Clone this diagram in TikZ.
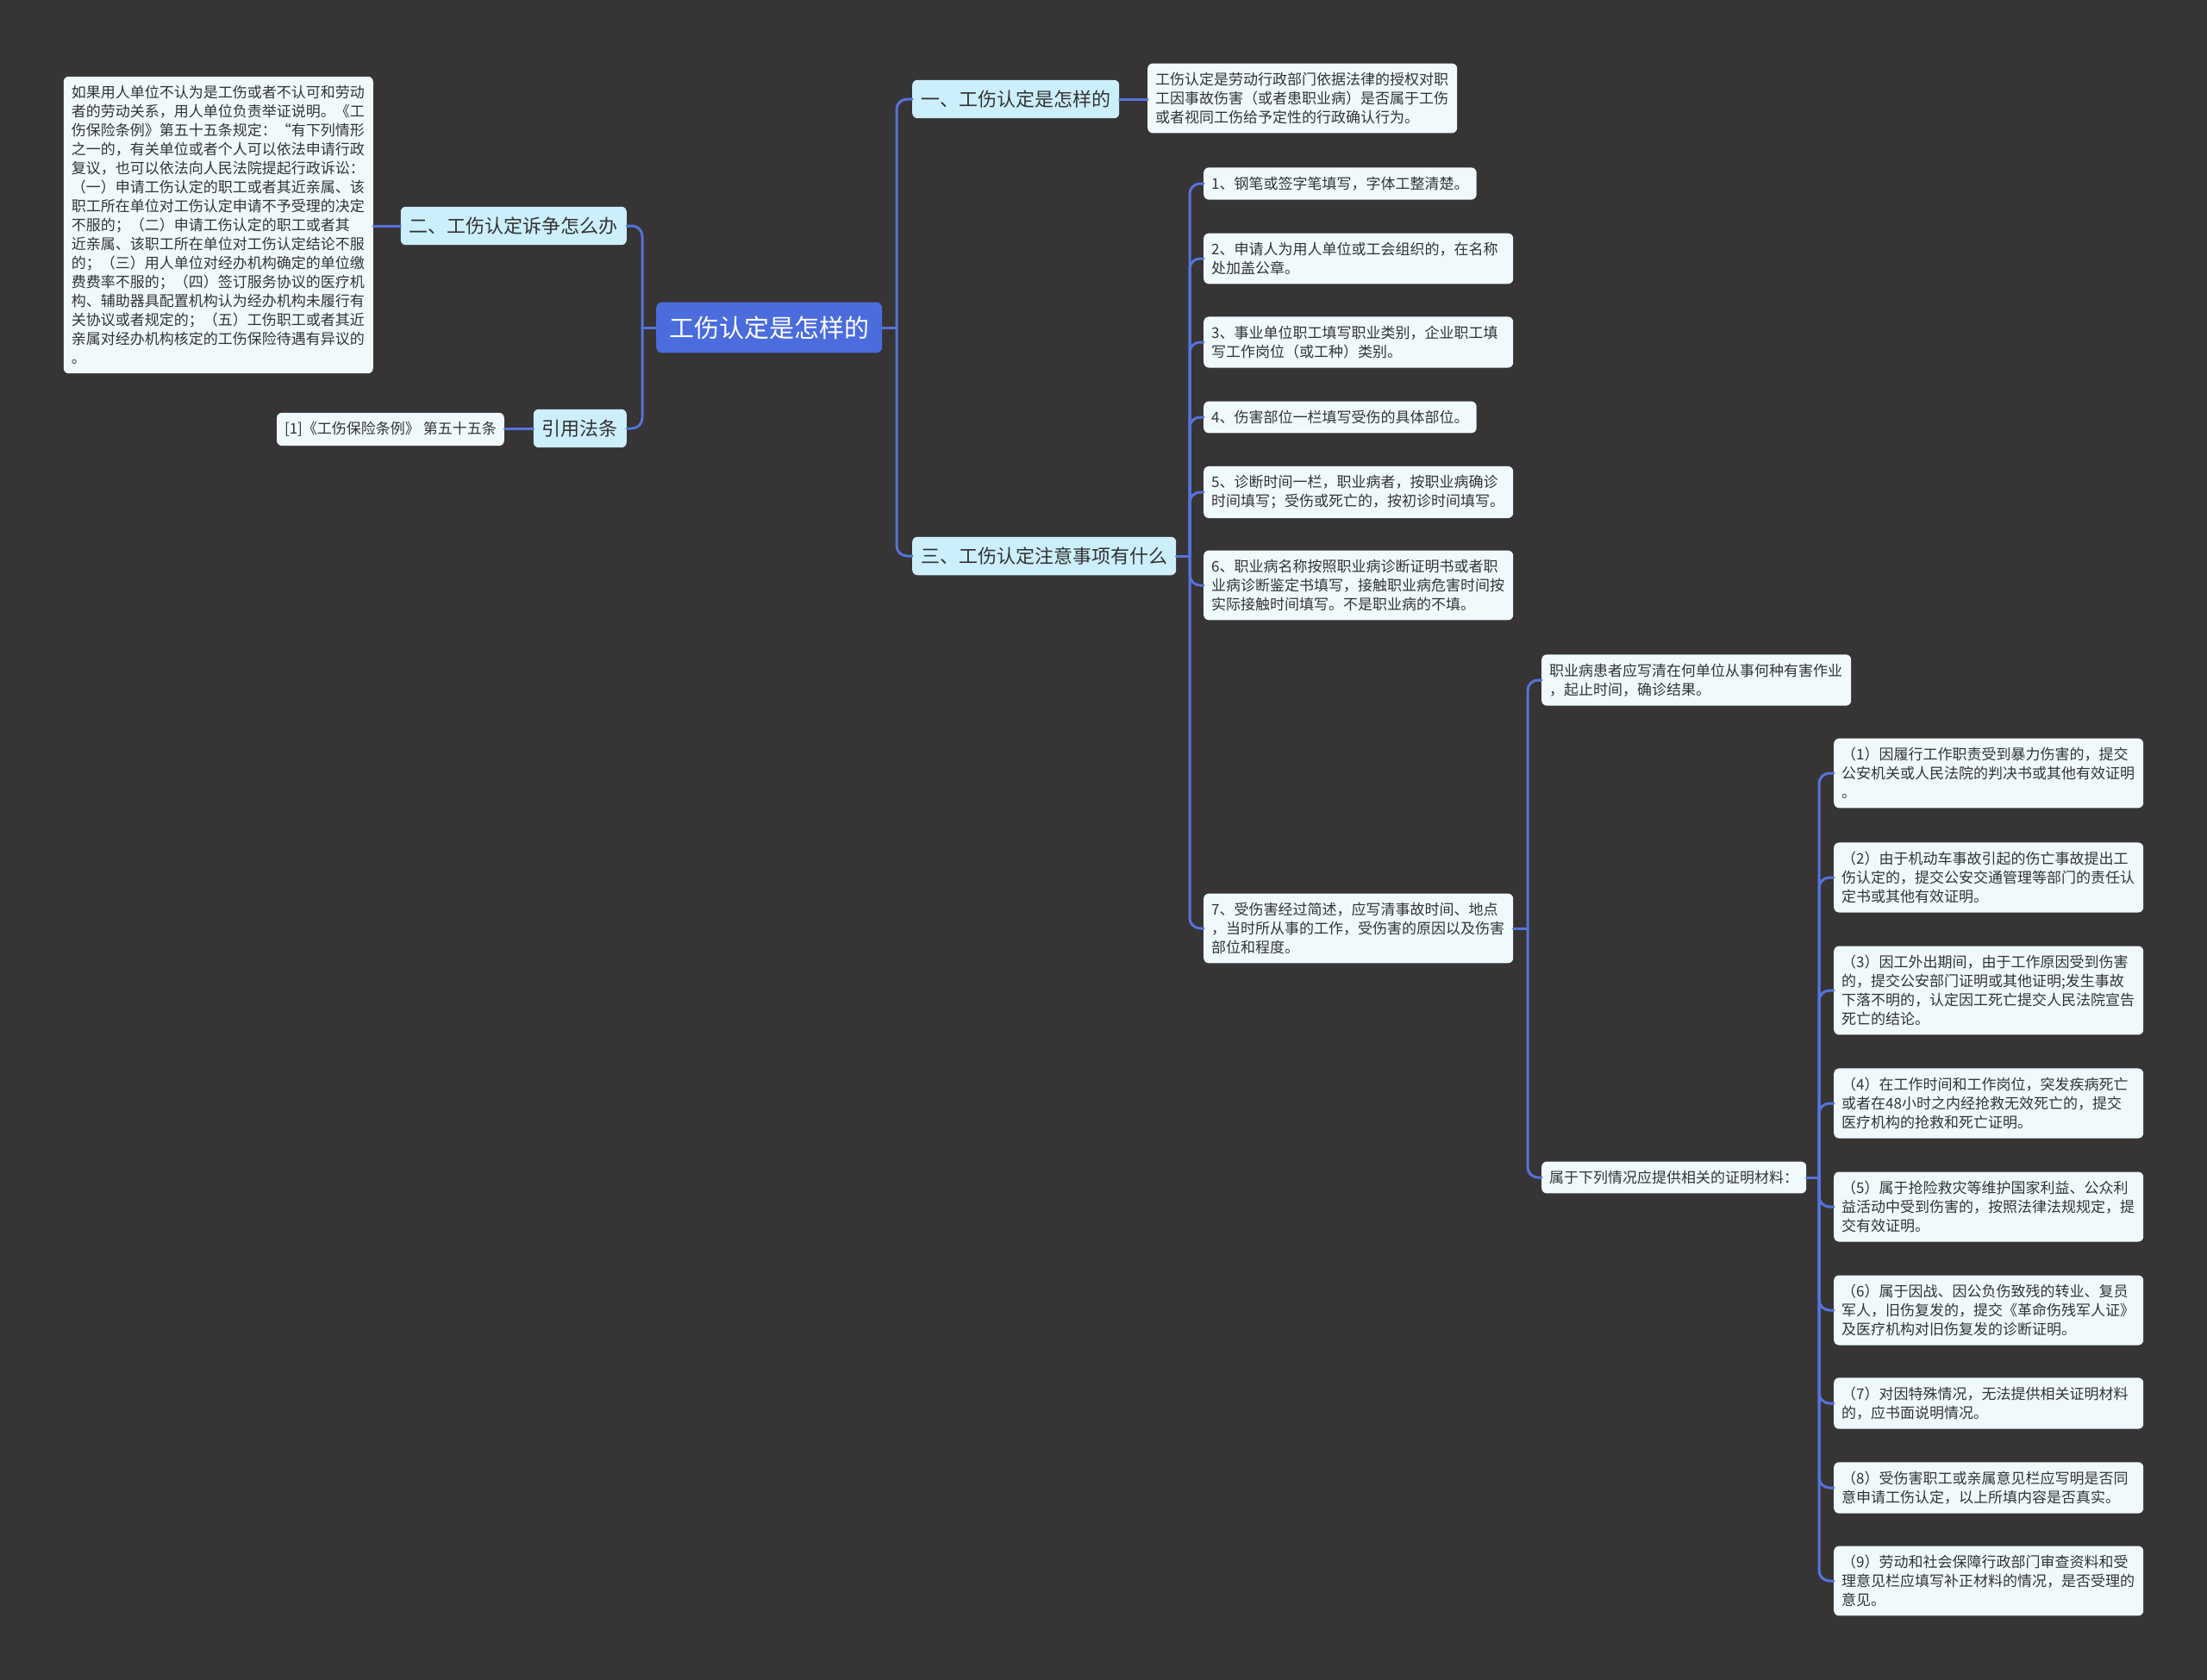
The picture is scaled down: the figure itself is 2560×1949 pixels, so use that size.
\documentclass[tikz,border=0pt]{standalone}
\usepackage{fontspec}
\setmainfont{Noto Sans CJK SC}
\usetikzlibrary{positioning}
\definecolor{bgdark}{HTML}{363435}
\definecolor{rootblue}{HTML}{4A6CDD}
\definecolor{linkblue}{HTML}{5573DA}
\definecolor{topicfill}{HTML}{CCEFFC}
\definecolor{leaffill}{HTML}{F0FAFD}
\definecolor{inkdark}{HTML}{333333}
\begin{document}
\begin{tikzpicture}[
  x=1pt,y=-1pt,
  line cap=round,line join=round,
  rootnode/.style={rectangle,rounded corners=7pt,fill=rootblue,text=white,
    font=\fontsize{29pt}{34pt}\selectfont,inner xsep=15pt,inner ysep=16pt},
  topic/.style={rectangle,rounded corners=6pt,fill=topicfill,text=inkdark,
    font=\fontsize{22pt}{26pt}\selectfont,inner xsep=10pt,inner ysep=12pt},
  leaf/.style={rectangle,rounded corners=6pt,fill=leaffill,text=inkdark,
    font=\fontsize{17pt}{22pt}\selectfont,align=left,inner xsep=9pt,inner ysep=10.5pt},
  wideleaf/.style={leaf,text width=341pt},
  link/.style={draw=linkblue,line width=3pt,rounded corners=12pt}
]
  % Canvas
  \useasboundingbox (0,0) rectangle (2560,1949);
  \fill[bgdark] (0,0) rectangle (2560,1949);

  % Root and first level
  \node[rootnode,anchor=west] (root) at (761,380) {工伤认定是怎样的};
  \node[topic,anchor=west] (what) at (1058,115) {一、工伤认定是怎样的};
  \node[topic,anchor=east] (dispute) at (727,262) {二、工伤认定诉争怎么办};
  \node[topic,anchor=west] (notes) at (1058,645) {三、工伤认定注意事项有什么};
  \node[topic,anchor=east] (law) at (727,497) {引用法条};

  % Leaves of the short branches
  \node[wideleaf,anchor=west] (whatleaf) at (1331,114) {工伤认定是劳动行政部门依据法律的授权对职\\工因事故伤害（或者患职业病）是否属于工伤\\或者视同工伤给予定性的行政确认行为。};
  \node[wideleaf,anchor=east] (disputeleaf) at (433,261) {如果用人单位不认为是工伤或者不认可和劳动\\者的劳动关系，用人单位负责举证说明。《工\\伤保险条例》第五十五条规定：“有下列情形\\之一的，有关单位或者个人可以依法申请行政\\复议，也可以依法向人民法院提起行政诉讼：\\（一）申请工伤认定的职工或者其近亲属、该\\职工所在单位对工伤认定申请不予受理的决定\\不服的；（二）申请工伤认定的职工或者其\\近亲属、该职工所在单位对工伤认定结论不服\\的；（三）用人单位对经办机构确定的单位缴\\费费率不服的；（四）签订服务协议的医疗机\\构、辅助器具配置机构认为经办机构未履行有\\关协议或者规定的；（五）工伤职工或者其近\\亲属对经办机构核定的工伤保险待遇有异议的\\。};
  \node[leaf,anchor=east] (lawleaf) at (585,498) {[1]《工伤保险条例》 第五十五条};

  % Items under notes
  \node[leaf,anchor=west] (i1) at (1396,213) {1、钢笔或签字笔填写，字体工整清楚。};
  \node[wideleaf,anchor=west] (i2) at (1396,300) {2、申请人为用人单位或工会组织的，在名称\\处加盖公章。};
  \node[wideleaf,anchor=west] (i3) at (1396,397) {3、事业单位职工填写职业类别，企业职工填\\写工作岗位（或工种）类别。};
  \node[leaf,anchor=west] (i4) at (1396,484) {4、伤害部位一栏填写受伤的具体部位。};
  \node[wideleaf,anchor=west] (i5) at (1396,571) {5、诊断时间一栏，职业病者，按职业病确诊\\时间填写；受伤或死亡的，按初诊时间填写。};
  \node[wideleaf,anchor=west] (i6) at (1396,679) {6、职业病名称按照职业病诊断证明书或者职\\业病诊断鉴定书填写，接触职业病危害时间按\\实际接触时间填写。不是职业病的不填。};
  \node[wideleaf,anchor=west] (i7) at (1396,1077) {7、受伤害经过简述，应写清事故时间、地点\\，当时所从事的工作，受伤害的原因以及伤害\\部位和程度。};

  % Under item 7
  \node[wideleaf,anchor=west] (sick) at (1788,789) {职业病患者应写清在何单位从事何种有害作业\\，起止时间，确诊结果。};
  \node[leaf,anchor=west] (proof) at (1788,1366) {属于下列情况应提供相关的证明材料：};

  % Proof cases
  \node[wideleaf,anchor=west] (p1) at (2127,897) {（1）因履行工作职责受到暴力伤害的，提交\\公安机关或人民法院的判决书或其他有效证明\\。};
  \node[wideleaf,anchor=west] (p2) at (2127,1018) {（2）由于机动车事故引起的伤亡事故提出工\\伤认定的，提交公安交通管理等部门的责任认\\定书或其他有效证明。};
  \node[wideleaf,anchor=west] (p3) at (2127,1149) {（3）因工外出期间，由于工作原因受到伤害\\的，提交公安部门证明或其他证明;发生事故\\下落不明的，认定因工死亡提交人民法院宣告\\死亡的结论。};
  \node[wideleaf,anchor=west] (p4) at (2127,1280) {（4）在工作时间和工作岗位，突发疾病死亡\\或者在48小时之内经抢救无效死亡的，提交\\医疗机构的抢救和死亡证明。};
  \node[wideleaf,anchor=west] (p5) at (2127,1400) {（5）属于抢险救灾等维护国家利益、公众利\\益活动中受到伤害的，按照法律法规规定，提\\交有效证明。};
  \node[wideleaf,anchor=west] (p6) at (2127,1520) {（6）属于因战、因公负伤致残的转业、复员\\军人，旧伤复发的，提交《革命伤残军人证》\\及医疗机构对旧伤复发的诊断证明。};
  \node[wideleaf,anchor=west] (p7) at (2127,1628) {（7）对因特殊情况，无法提供相关证明材料\\的，应书面说明情况。};
  \node[wideleaf,anchor=west] (p8) at (2127,1726) {（8）受伤害职工或亲属意见栏应写明是否同\\意申请工伤认定，以上所填内容是否真实。};
  \node[wideleaf,anchor=west] (p9) at (2127,1834) {（9）劳动和社会保障行政部门审查资料和受\\理意见栏应填写补正材料的情况，是否受理的\\意见。};

  % Junctions
  \coordinate (rootR) at (1040,380);
  \coordinate (rootL) at (745,380);
  \coordinate (notesJ) at (1380,645);
  \coordinate (i7J) at (1772,1077);
  \coordinate (proofJ) at (2110,1366);

  % Connectors
  \draw[link] (root.east) -- (rootR);
  \draw[link] (root.west) -- (rootL);
  \draw[link] (rootR) |- (what.west);
  \draw[link] (rootR) |- (notes.west);
  \draw[link] (rootL) |- (dispute.east);
  \draw[link] (rootL) |- (law.east);
  \draw[link] (what.east) -- (what.east -| whatleaf.west);
  \draw[link] (dispute.west) -- (dispute.west -| disputeleaf.east);
  \draw[link] (law.west) -- (law.west -| lawleaf.east);
  \draw[link] (notes.east) -- (notesJ);
  \foreach \n in {i1,i2,i3,i4,i5,i6,i7}
    \draw[link] (notesJ) |- (\n.west);
  \draw[link] (i7.east) -- (i7J);
  \draw[link] (i7J) |- (sick.west);
  \draw[link] (i7J) |- (proof.west);
  \draw[link] (proof.east) -- (proofJ);
  \foreach \n in {p1,p2,p3,p4,p5,p6,p7,p8,p9}
    \draw[link] (proofJ) |- (\n.west);
\end{tikzpicture}
\end{document}
